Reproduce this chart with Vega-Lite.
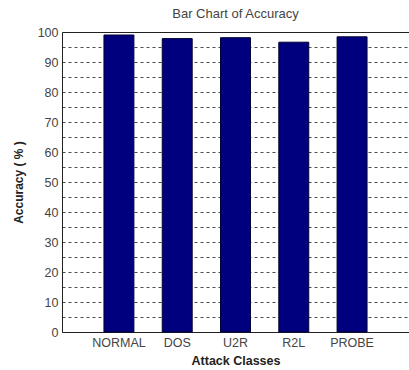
{
  "$schema": "https://vega.github.io/schema/vega-lite/v6.json",
  "width": 347,
  "height": 300,
  "autosize": {"type": "none"},
  "padding": {"left": 62, "top": 32, "right": 0, "bottom": 38},
  "background": "white",
  "config": {
    "font": "Liberation Sans",
    "view": {"stroke": "#222", "strokeWidth": 1},
    "axis": {"labelFont": "Liberation Sans", "titleFont": "Liberation Sans", "labelColor": "#444", "titleColor": "#222"}
  },
  "title": {"text": "Bar Chart of Accuracy", "fontSize": 13, "fontWeight": "normal", "color": "#444", "offset": 5, "font": "Liberation Sans"},
  "data": {"values": [
    {"cls": "NORMAL", "acc": 99.0},
    {"cls": "DOS", "acc": 97.8},
    {"cls": "U2R", "acc": 98.1},
    {"cls": "R2L", "acc": 96.6},
    {"cls": "PROBE", "acc": 98.4}
  ]},
  "mark": {"type": "bar", "color": "#00007f", "stroke": "#000033", "strokeWidth": 1},
  "encoding": {
    "x": {
      "field": "cls", "type": "nominal", "sort": null,
      "scale": {"paddingInner": 0.486, "paddingOuter": 0.72},
      "axis": {"title": "Attack Classes", "titleFontWeight": "bold", "titleFontSize": 12.5, "titlePadding": 6,
        "labelAngle": 0, "labelFontSize": 12.5, "labelPadding": 4, "ticks": false, "domain": false, "grid": false}
    },
    "y": {
      "field": "acc", "type": "quantitative",
      "scale": {"domain": [0, 100], "nice": false},
      "axis": {"title": "Accuracy ( % )", "titleFontWeight": "bold", "titleFontSize": 12, "titlePadding": 12,
        "values": [0,5,10,15,20,25,30,35,40,45,50,55,60,65,70,75,80,85,90,95,100],
        "labelExpr": "datum.value % 10 === 0 ? datum.label : ''",
        "labelFontSize": 12.5, "labelPadding": 4, "ticks": false, "domain": false,
        "grid": true, "gridColor": "#222", "gridDash": [3, 3], "gridWidth": 1, "gridOpacity": 0.8}
    }
  }
}
